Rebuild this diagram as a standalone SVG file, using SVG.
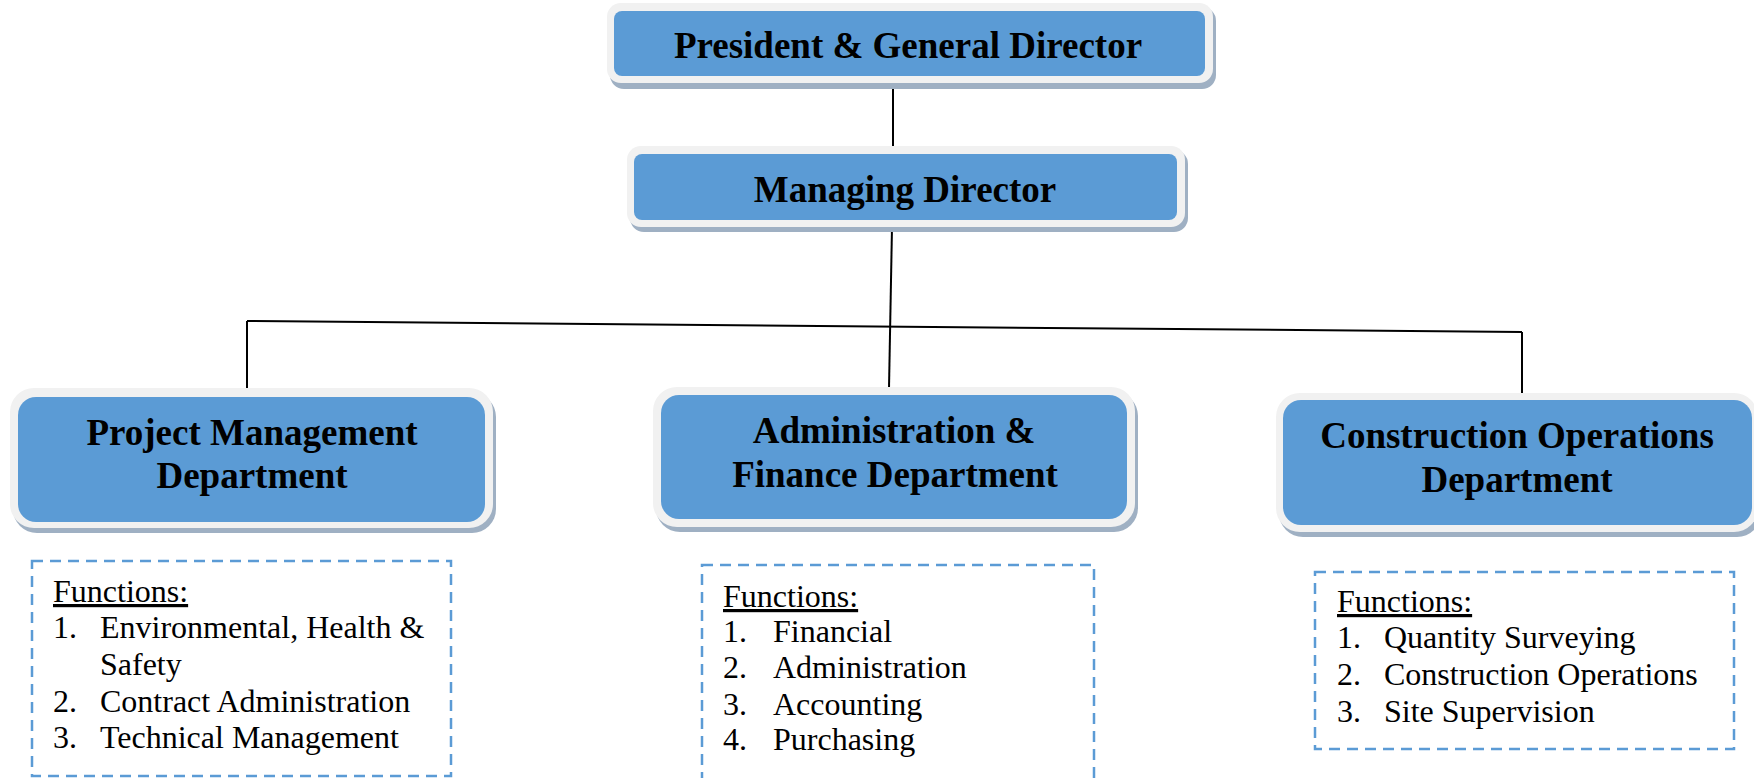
<svg xmlns="http://www.w3.org/2000/svg" width="1754" height="778" viewBox="0 0 1754 778">
<style>
.shadow{fill:#9fb0c3}
.outer{fill:#f1f1f1}
.inner{fill:#5b9bd5}
.title{font-family:"Liberation Serif","Times New Roman",serif;font-weight:bold;font-size:37px;fill:#000;text-anchor:middle}
.list{font-family:"Liberation Serif","Times New Roman",serif;font-size:32px;fill:#000}
.dash{fill:none;stroke:#5b9bd5;stroke-width:2.5;stroke-dasharray:11 7}
.conn{stroke:#000;stroke-width:2;fill:none}
</style>
<rect width="1754" height="778" fill="#fff"/>
<g id="connectors">
<line class="conn" x1="893" y1="83" x2="893" y2="150"/>
<line class="conn" x1="892" y1="227" x2="889" y2="388"/>
<line class="conn" x1="247" y1="321" x2="1522" y2="332"/>
<line class="conn" x1="247" y1="321" x2="247" y2="388"/>
<line class="conn" x1="1522" y1="332" x2="1522" y2="394"/>
</g>
<g id="president">
<rect class="shadow" x="610" y="7" width="606" height="82" rx="14"/>
<rect class="outer" x="607" y="3" width="606" height="80" rx="14"/>
<rect class="inner" x="614" y="11" width="591" height="65" rx="8"/>
<text class="title" x="908" y="58">President &amp; General Director</text>
</g>
<g id="managing">
<rect class="shadow" x="630" y="150" width="558" height="82" rx="14"/>
<rect class="outer" x="627" y="146" width="558" height="81" rx="14"/>
<rect class="inner" x="634" y="154" width="543" height="66" rx="8"/>
<text class="title" x="905" y="202">Managing Director</text>
</g>
<g id="project-mgmt">
<rect class="shadow" x="13" y="393" width="483" height="140" rx="24"/>
<rect class="outer" x="10" y="388" width="483" height="140" rx="24"/>
<rect class="inner" x="18" y="397" width="467" height="125" rx="18"/>
<text class="title" x="252" y="445">Project Management</text>
<text class="title" x="252" y="488">Department</text>
</g>
<g id="admin-finance">
<rect class="shadow" x="656" y="392" width="482" height="140" rx="24"/>
<rect class="outer" x="653" y="387" width="482" height="140" rx="24"/>
<rect class="inner" x="661" y="395" width="466" height="124" rx="18"/>
<text class="title" x="894" y="443">Administration &amp;</text>
<text class="title" x="895" y="487">Finance Department</text>
</g>
<g id="construction-ops">
<rect class="shadow" x="1279" y="398" width="482" height="139" rx="24"/>
<rect class="outer" x="1276" y="393" width="482" height="139" rx="24"/>
<rect class="inner" x="1283" y="400" width="469" height="125" rx="18"/>
<text class="title" x="1517" y="448">Construction Operations</text>
<text class="title" x="1517" y="492">Department</text>
</g>
<g id="functions-project">
<rect class="dash" x="32" y="561" width="419" height="215"/>
<text class="list" x="53" y="602" text-decoration="underline">Functions:</text>
<text class="list" x="53" y="638">1.</text><text class="list" x="100" y="638">Environmental, Health &amp;</text>
<text class="list" x="100" y="675">Safety</text>
<text class="list" x="53" y="712">2.</text><text class="list" x="100" y="712">Contract Administration</text>
<text class="list" x="53" y="748">3.</text><text class="list" x="100" y="748">Technical Management</text>
</g>
<g id="functions-admin">
<rect class="dash" x="702" y="565" width="392" height="230"/>
<text class="list" x="723" y="607" text-decoration="underline">Functions:</text>
<text class="list" x="723" y="642">1.</text><text class="list" x="773" y="642">Financial</text>
<text class="list" x="723" y="678">2.</text><text class="list" x="773" y="678">Administration</text>
<text class="list" x="723" y="715">3.</text><text class="list" x="773" y="715">Accounting</text>
<text class="list" x="723" y="750">4.</text><text class="list" x="773" y="750">Purchasing</text>
</g>
<g id="functions-construction">
<rect class="dash" x="1315" y="572" width="419" height="177"/>
<text class="list" x="1337" y="612" text-decoration="underline">Functions:</text>
<text class="list" x="1337" y="648">1.</text><text class="list" x="1384" y="648">Quantity Surveying</text>
<text class="list" x="1337" y="685">2.</text><text class="list" x="1384" y="685">Construction Operations</text>
<text class="list" x="1337" y="722">3.</text><text class="list" x="1384" y="722">Site Supervision</text>
</g>
</svg>
